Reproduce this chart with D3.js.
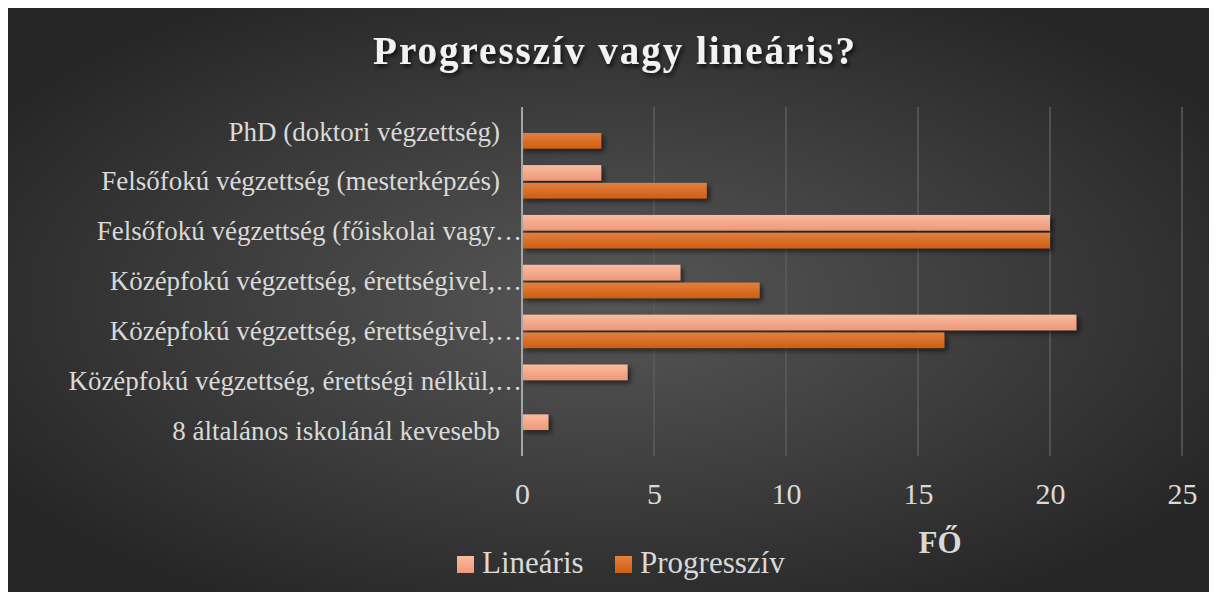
<!DOCTYPE html>
<html>
<head>
<meta charset="utf-8">
<script src="https://cdn.jsdelivr.net/npm/d3@7"></script>
<style>
  html, body { margin: 0; padding: 0; background: #fff; }
  svg { display: block; }
</style>
</head>
<body>
<svg id="chart"></svg>
<script>
// data
const categories = [
  'PhD (doktori végzettség)',
  'Felsőfokú végzettség (mesterképzés)',
  'Felsőfokú végzettség (főiskolai vagy…',
  'Középfokú végzettség, érettségivel,…',
  'Középfokú végzettség, érettségivel,…',
  'Középfokú végzettség, érettségi nélkül,…',
  '8 általános iskolánál kevesebb'
];
const seriesNames = ['Lineáris', 'Progresszív'];
const linearis    = [0, 3, 20, 6, 21, 4, 1];
const progressziv = [3, 7, 20, 9, 16, 0, 0];
const xTicks = [0, 5, 10, 15, 20, 25];

const W = 1217, H = 599;
const margin = { top: 107, left: 522 };
const plotW = 660, plotH = 349;
const serif = '"Liberation Serif", "Times New Roman", serif';

const svg = d3.select('#chart').attr('width', W).attr('height', H);
const defs = svg.append('defs');

// background
const bg = defs.append('radialGradient').attr('id', 'bg')
  .attr('cx', '50%').attr('cy', '50%').attr('r', '60%');
bg.append('stop').attr('offset', '0%').attr('stop-color', '#575757');
bg.append('stop').attr('offset', '100%').attr('stop-color', '#262626');

const gLin = defs.append('linearGradient').attr('id', 'gLin')
  .attr('x1', 0).attr('y1', 0).attr('x2', 0).attr('y2', 1);
gLin.append('stop').attr('offset', '0%').attr('stop-color', '#f9bb9f');
gLin.append('stop').attr('offset', '100%').attr('stop-color', '#ee9878');
const gProg = defs.append('linearGradient').attr('id', 'gProg')
  .attr('x1', 0).attr('y1', 0).attr('x2', 0).attr('y2', 1);
gProg.append('stop').attr('offset', '0%').attr('stop-color', '#e2803f');
gProg.append('stop').attr('offset', '100%').attr('stop-color', '#d05e12');

const shadow = defs.append('filter').attr('id', 'shadow')
  .attr('x', '-10%').attr('y', '-50%').attr('width', '130%').attr('height', '200%');
shadow.append('feDropShadow').attr('dx', 3).attr('dy', 3)
  .attr('stdDeviation', 2.5).attr('flood-color', '#000').attr('flood-opacity', 0.55);

const tshadow = defs.append('filter').attr('id', 'tshadow')
  .attr('x', '-10%').attr('y', '-30%').attr('width', '120%').attr('height', '160%');
tshadow.append('feDropShadow').attr('dx', 2).attr('dy', 3)
  .attr('stdDeviation', 2).attr('flood-color', '#000').attr('flood-opacity', 0.7);

svg.append('rect').attr('x', 8).attr('y', 8).attr('width', W - 16).attr('height', H - 15)
  .attr('fill', 'url(#bg)');

// title
svg.append('text')
  .attr('x', 615).attr('y', 64)
  .attr('text-anchor', 'middle')
  .attr('font-family', serif)
  .attr('font-weight', 'bold')
  .attr('font-size', 39)
  .attr('letter-spacing', 2)
  .attr('fill', '#f2f2f2')
  .attr('filter', 'url(#tshadow)')
  .text('Progresszív vagy lineáris?');

const g = svg.append('g').attr('transform', `translate(${margin.left},${margin.top})`);

const x = d3.scaleLinear().domain([0, 25]).range([0, plotW]);
const y = d3.scaleBand().domain(d3.range(categories.length)).range([0, plotH])
  .paddingInner(0.33).paddingOuter(0.165);
const ys = d3.scaleBand().domain(seriesNames).range([0, y.bandwidth()]).paddingInner(0.12);

// gridlines
g.append('g').selectAll('line').data(xTicks.slice(1)).join('line')
  .attr('x1', d => x(d)).attr('x2', d => x(d))
  .attr('y1', 0).attr('y2', plotH)
  .attr('stroke', '#5c5c5c').attr('stroke-width', 1.5);

// bars
const rows = categories.map((c, i) => ({ i, vals: [linearis[i], progressziv[i]] }));
const fills = { 'Lineáris': 'url(#gLin)', 'Progresszív': 'url(#gProg)' };
g.append('g').selectAll('g').data(rows).join('g')
  .attr('transform', d => `translate(0,${y(d.i)})`)
  .selectAll('rect')
  .data(d => seriesNames.map((s, k) => ({ s, v: d.vals[k] })).filter(d => d.v > 0))
  .join('rect')
  .attr('x', 0)
  .attr('y', d => ys(d.s))
  .attr('width', d => x(d.v))
  .attr('height', ys.bandwidth())
  .attr('fill', d => fills[d.s])
  .attr('filter', 'url(#shadow)');

// zero line
g.append('line').attr('x1', 0).attr('x2', 0).attr('y1', 0).attr('y2', plotH)
  .attr('stroke', '#a6a6a6').attr('stroke-width', 2);

// category labels
const yAxis = d3.axisLeft(y).tickSize(0).tickPadding(22).tickFormat(i => categories[i]);
const ya = g.append('g').call(yAxis);
ya.select('.domain').remove();
ya.selectAll('text')
  .attr('font-family', serif)
  .attr('font-size', 27)
  .attr('fill', '#d9d9d9')
  .attr('dx', d => categories[d].endsWith('…') ? 22 : 0);

// x axis ticks
const xAxis = d3.axisBottom(x).tickValues(xTicks).tickSize(0).tickPadding(27);
const xa = g.append('g').attr('transform', `translate(0,${plotH})`).call(xAxis);
xa.select('.domain').remove();
xa.selectAll('text')
  .attr('font-family', serif)
  .attr('font-size', 30)
  .attr('fill', '#d9d9d9');

// axis title
svg.append('text')
  .attr('x', 940).attr('y', 553)
  .attr('text-anchor', 'middle')
  .attr('font-family', serif)
  .attr('font-weight', 'bold')
  .attr('font-size', 31)
  .attr('fill', '#d9d9d9')
  .text('FŐ');

// legend
const legendX = [457, 615];
const lg = svg.append('g');
seriesNames.forEach((s, k) => {
  lg.append('rect').attr('x', legendX[k]).attr('y', 556).attr('width', 17).attr('height', 17)
    .attr('fill', fills[s]);
  lg.append('text').attr('x', legendX[k] + 25).attr('y', 573)
    .attr('font-family', serif)
    .attr('font-size', 31)
    .attr('fill', '#d9d9d9')
    .text(s);
});
</script>
</body>
</html>
